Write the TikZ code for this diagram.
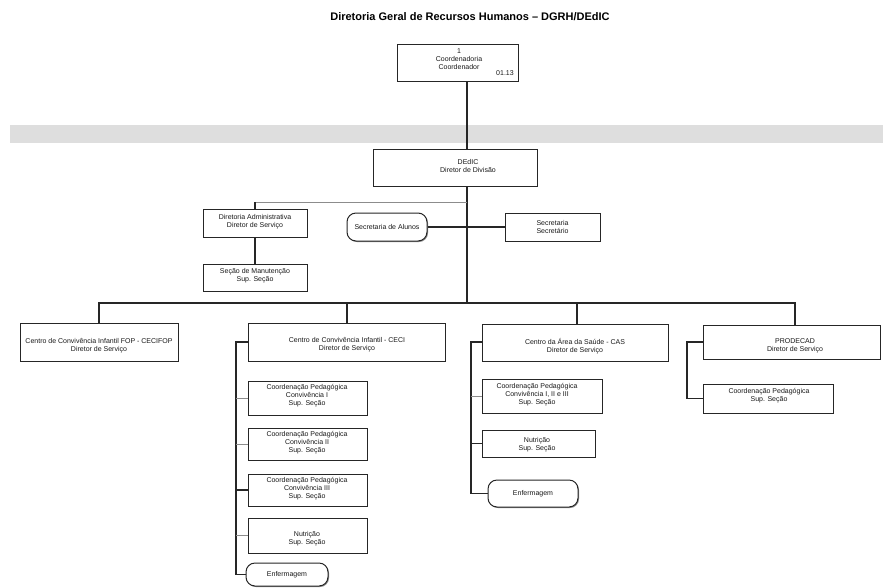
\documentclass[tikz,border=0pt]{standalone}
\usepackage{fontspec}
\setmainfont{Liberation Sans}
\usetikzlibrary{fit,shadows}
\newcommand\boxfont{\fontsize{7}{8}\selectfont}
\tikzset{
  orgbox/.style={draw=black!85, line width=1pt, inner sep=0pt, fill=white,
    drop shadow={shadow xshift=1pt, shadow yshift=-1pt, fill=black!45, opacity=1}},
  pillbox/.style={orgbox, rounded corners=9pt},
  txt/.style={font=\boxfont, align=center, inner sep=0pt, text=black!90},
  conn/.style={draw=black!85, line width=1.1pt},
  thinconn/.style={draw=black!45, line width=0.7pt},
}
\begin{document}
\begin{tikzpicture}[x=1pt, y=-1pt]
\useasboundingbox (0,0) rectangle (883,587);
\fill[white] (0,0) rectangle (883,587);
% title
\node[font=\bfseries\fontsize{11}{13}\selectfont, inner sep=0pt] (title) at (470,17) {Diretoria Geral de Recursos Humanos – DGRH/DEdIC};
% grey band
\fill[black!13] (10,125) rectangle (883,143);
% spine coordinates
\coordinate (spine) at (467,0);
\coordinate (bus) at (0,303);
\coordinate (admx) at (255,202);
% boxes
\node[orgbox, fit={(397,44)(518,81)}] (top) {};
\node[orgbox, fit={(373,149)(537,186)}] (dedic) {};
\node[orgbox, fit={(203,209)(307,237)}] (diradm) {};
\node[orgbox, fit={(203,264)(307,291)}] (secman) {};
\node[pillbox, fit={(347,213)(427,241)}] (secal) {};
\node[orgbox, fit={(505,213)(600,241)}] (secr) {};
\node[orgbox, fit={(20,323)(178,361)}] (cecifop) {};
\node[orgbox, fit={(248,323)(445,361)}] (ceci) {};
\node[orgbox, fit={(482,324)(668,361)}] (cas) {};
\node[orgbox, fit={(703,325)(880,359)}] (prod) {};
\node[orgbox, fit={(703,384)(833,413)}] (prodcp) {};
\node[orgbox, fit={(248,381)(367,415)}] (ceci1) {};
\node[orgbox, fit={(248,428)(367,460)}] (ceci2) {};
\node[orgbox, fit={(248,474)(367,506)}] (ceci3) {};
\node[orgbox, fit={(248,518)(367,553)}] (ceci4) {};
\node[pillbox, fit={(246,563)(328,586)}] (cecienf) {};
\node[orgbox, fit={(482,379)(602,413)}] (cas1) {};
\node[orgbox, fit={(482,430)(595,457)}] (cas2) {};
\node[pillbox, fit={(488,480)(578,507)}] (casenf) {};
% texts
\node[txt] (ttop) at (459,59) {1\\Coordenadoria\\Coordenador};
\node[txt] (tnum) at (505,73) {01.13};
\node[txt] (tdedic) at (468,166) {DEdIC\\Diretor de Divisão};
\node[txt] (tdiradm) at (255,222) {Diretoria Administrativa\\Diretor de Serviço};
\node[txt] (tsecman) at (255,276) {Seção de Manutenção\\Sup. Seção};
\node[txt] (tsecal) at (secal) {Secretaria de Alunos};
\node[txt] (tsecr) at (secr) {Secretaria\\Secretário};
\node[txt] (tcecifop) at (99,346) {Centro de Convivência Infantil FOP - CECIFOP\\Diretor de Serviço};
\node[txt] (tceci) at (347,345) {Centro de Convivência Infantil - CECI\\Diretor de Serviço};
\node[txt] (tcas) at (575,346) {Centro da Área da Saúde - CAS\\Diretor de Serviço};
\node[txt] (tprod) at (795,346) {PRODECAD\\Diretor de Serviço};
\node[txt] (tprodcp) at (769,396) {Coordenação Pedagógica\\Sup. Seção};
\node[txt] (tceci1) at (307,396) {Coordenação Pedagógica\\Convivência I\\Sup. Seção};
\node[txt] (tceci2) at (307,443) {Coordenação Pedagógica\\Convivência II\\Sup. Seção};
\node[txt] (tceci3) at (307,489) {Coordenação Pedagógica\\Convivência III\\Sup. Seção};
\node[txt] (tceci4) at (307,539) {Nutrição\\Sup. Seção};
\node[txt] (tcecienf) at (cecienf) {Enfermagem};
\node[txt] (tcas1) at (537,395) {Coordenação Pedagógica\\Convivência I, II e III\\Sup. Seção};
\node[txt] (tcas2) at (537,445) {Nutrição\\Sup. Seção};
\node[txt] (tcasenf) at (casenf) {Enfermagem};
% connectors
\draw[conn] (top.south -| spine) -- (dedic.north -| spine);
\draw[conn] (dedic.south -| spine) -- (spine |- bus);
\draw[thinconn] (spine |- admx) -- (admx);
\draw[conn] (admx) -- (diradm.north -| admx);
\draw[conn] (diradm.south -| admx) -- (secman.north -| admx);
\draw[conn] (secal.east) -- (secr.west);
\fill[black!85] (spine |- secal.east) circle (1.2pt);
% bus
\draw[conn] (cecifop.north -| 99,0) -- (99,303) -- (795,303) -- (prod.north -| 795,0);
\draw[conn] (347,303) -- (ceci.north -| 347,0);
\draw[conn] (577,303) -- (cas.north -| 577,0);
% CECI column
\coordinate (ccx) at (236,342);
\draw[conn] (ceci.west |- ccx) -- (ccx) -- (ccx |- cecienf.west) -- (cecienf.west);
\draw[thinconn] (ccx |- ceci1.west) -- (ceci1.west);
\draw[thinconn] (ccx |- ceci2.west) -- (ceci2.west);
\draw[conn] (ccx |- ceci3.west) -- (ceci3.west);
\draw[thinconn] (ccx |- ceci4.west) -- (ceci4.west);
% CAS column
\coordinate (cax) at (471,342);
\draw[conn] (cas.west |- cax) -- (cax) -- (cax |- casenf.west) -- (casenf.west);
\draw[thinconn] (cax |- cas1.west) -- (cas1.west);
\draw[conn] (cax |- cas2.west) -- (cas2.west);
% PRODECAD column
\coordinate (prx) at (687,342);
\draw[conn] (prod.west |- prx) -- (prx) -- (prx |- prodcp.west) -- (prodcp.west);
\end{tikzpicture}
\end{document}
